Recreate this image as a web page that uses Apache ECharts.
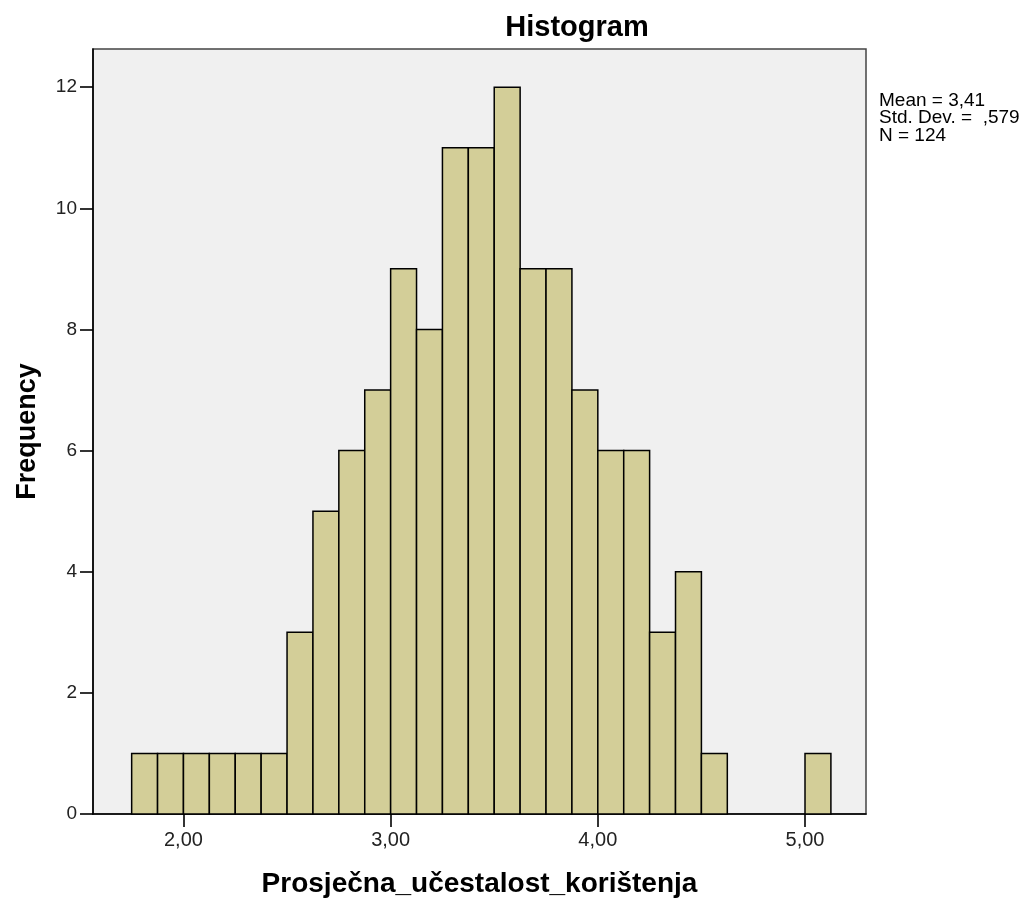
<!DOCTYPE html>
<html>
<head>
<meta charset="utf-8">
<script src="https://cdn.jsdelivr.net/npm/echarts@6/dist/echarts.min.js"></script>
<style>
html,body{margin:0;padding:0;background:#fff;}
#c{width:1029px;height:901px;}
</style>
</head>
<body>
<div id="c"></div>
<script>
// Bin lower edges (bin width 0.125)
const binStarts = [1.75,1.875,2.0,2.125,2.25,2.375,2.5,2.625,2.75,2.875,3.0,3.125,3.25,3.375,3.5,3.625,3.75,3.875,4.0,4.125,4.25,4.375,4.5,4.625,4.75,4.875,5.0];
const binWidth = 0.125;
const frequencies = [1,1,1,1,1,1,3,5,6,7,9,8,11,11,12,9,9,7,6,6,3,4,1,0,0,0,1];
const xTicks = [2,3,4,5];
const yTicks = [0,2,4,6,8,10,12];
const statsLines = ['Mean = 3,41','Std. Dev. =  ,579','N = 124'];

const data = binStarts.map((s,i)=>[s, s+binWidth, frequencies[i]]).filter(d=>d[2]>0);

const chart = echarts.init(document.getElementById('c'), null, {renderer:'canvas'});
const font = '"Liberation Sans", Arial, sans-serif';
chart.setOption({
  animation:false,
  backgroundColor:'#ffffff',
  title:{
    text:'Histogram', left:572, top:8, textAlign:'center',
    textStyle:{fontFamily:font, fontSize:29, fontWeight:'bold', color:'#000'}
  },
  graphic:[{
    type:'text', left:879, top:91,
    style:{text:statsLines.join('\n'), font:'19px "Liberation Sans", Arial, sans-serif', lineHeight:17.5, fill:'#000'}
  }],
  grid:{left:93, right:163, top:49, bottom:87, outerBoundsMode:'none', containLabel:false, show:true, backgroundColor:'#f0f0f0', borderColor:'#444', borderWidth:1.5},
  xAxis:{
    type:'value', min:1.5634, max:5.2944,
    name:'Prosječna_učestalost_korištenja', nameLocation:'middle', nameGap:56,
    nameTextStyle:{fontFamily:font, fontSize:28, fontWeight:'bold', color:'#000'},
    axisLine:{show:true, lineStyle:{color:'#000', width:1.6}},
    axisTick:{show:true, customValues:xTicks, length:13, lineStyle:{color:'#000', width:1.6}},
    axisLabel:{customValues:xTicks, formatter:v=>v.toFixed(2).replace('.',','), fontFamily:font, fontSize:20, color:'#222', margin:16},
    splitLine:{show:false}
  },
  yAxis:{
    type:'value', min:0, max:12.63,
    name:'Frequency', nameLocation:'middle', nameGap:52,
    nameTextStyle:{fontFamily:font, fontSize:27, fontWeight:'bold', color:'#000'},
    axisLine:{show:true, lineStyle:{color:'#000', width:1.6}},
    axisTick:{show:true, customValues:yTicks, length:13, lineStyle:{color:'#000', width:1.6}},
    axisLabel:{customValues:yTicks, formatter:v=>String(v), fontFamily:font, fontSize:19, color:'#222', margin:16},
    splitLine:{show:false}
  },
  series:[{
    type:'custom',
    data:data,
    encode:{x:[0,1], y:2},
    renderItem:(params, api)=>{
      const p0 = api.coord([api.value(0), api.value(2)]);
      const p1 = api.coord([api.value(1), 0]);
      return {
        type:'rect',
        shape:{x:p0[0], y:p0[1], width:p1[0]-p0[0], height:p1[1]-p0[1]},
        style:{fill:'#d3ce98', stroke:'#000', lineWidth:1.5}
      };
    }
  }]
});
</script>
</body>
</html>
